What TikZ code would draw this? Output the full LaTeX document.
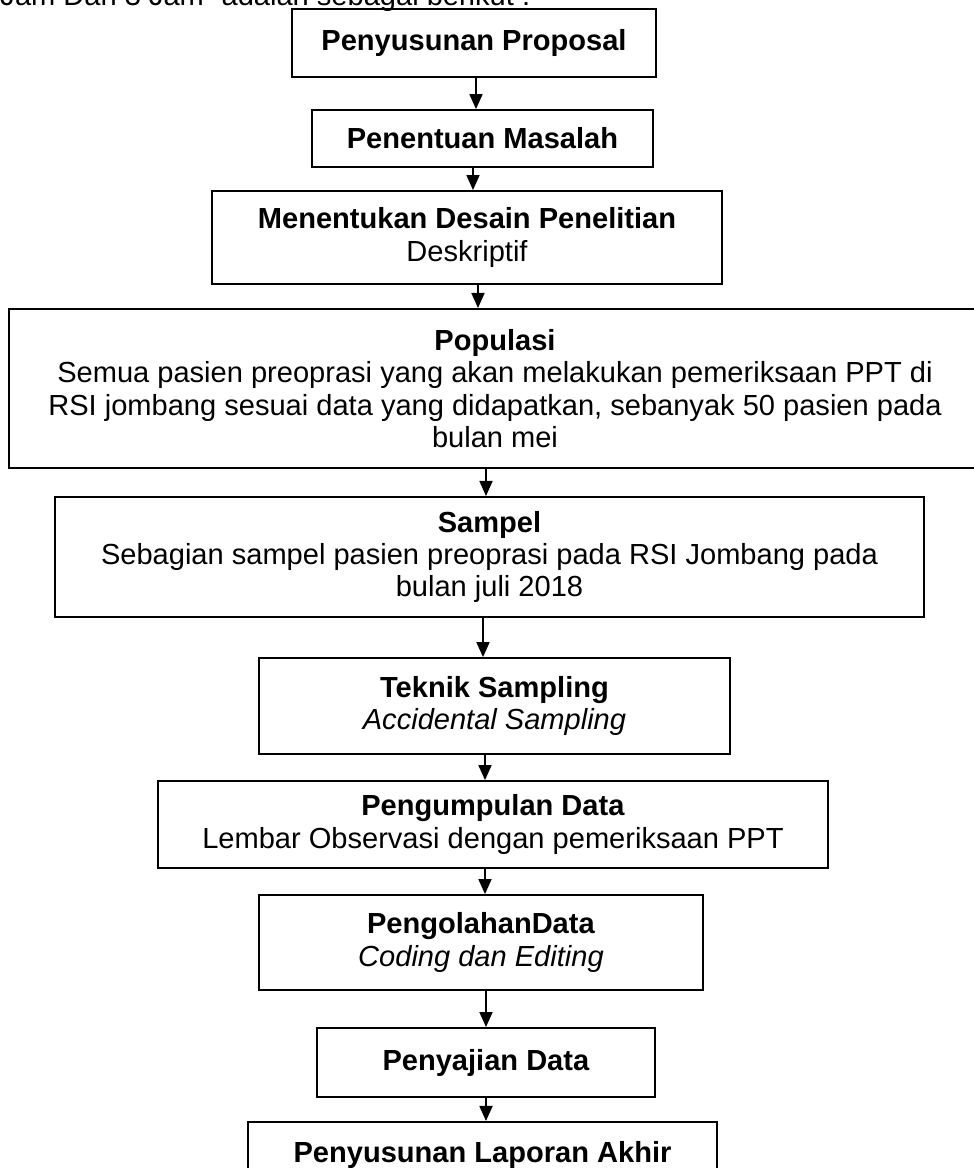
\documentclass[tikz,border=0pt]{standalone}
\usepackage{fontspec}
\setmainfont{Liberation Sans}
\usetikzlibrary{arrows.meta}

\begin{document}
\begin{tikzpicture}[x=0.413pt, y=-0.413pt,
  box/.style={draw, line width=0.8pt, align=center, inner sep=0pt, font=\fontsize{12}{13.4}\selectfont},
  arr/.style={line width=0.6pt, -{Triangle[length=6.2pt, width=5.4pt]}}]
\useasboundingbox (0,0) rectangle (974,1168);
\clip (0,0) rectangle (974,1168);
% line of text cut off above the chart
\node[anchor=base west, inner sep=0pt, font=\fontsize{12}{13.4}\selectfont] (intro) at (0,5.5) {Jam Dan 3 Jam'' adalah sebagai berikut :};
\node[box, minimum width=150.3pt, minimum height=28.1pt] (proposal) at (474,43) {\textbf{Penyusunan Proposal}};
\node[box, minimum width=140.8pt, minimum height=23.5pt] (masalah) at (482.5,138.5) {\textbf{Penentuan Masalah}};
\node[box, minimum width=210.6pt, minimum height=38.4pt] (desain) at (467,237.5) {\textbf{Menentukan Desain Penelitian}\\Deskriptif};
\node[box, minimum width=401.4pt, minimum height=65.7pt] (populasi) at (495,388.5) {\textbf{Populasi}\\Semua pasien preoprasi yang akan melakukan pemeriksaan PPT di\\RSI jombang sesuai data yang didapatkan, sebanyak 50 pasien pada\\bulan mei};
\node[box, minimum width=358.9pt, minimum height=49.6pt] (sampel) at (489.5,557) {\textbf{Sampel}\\Sebagian sampel pasien preoprasi pada RSI Jombang pada\\bulan juli 2018};
\node[box, minimum width=194.5pt, minimum height=39.6pt] (teknik) at (494.5,706) {\textbf{Teknik Sampling}\\\textit{Accidental Sampling}};
\node[box, minimum width=276.7pt, minimum height=35.9pt] (pengumpulan) at (493,824.5) {\textbf{Pengumpulan Data}\\Lembar Observasi dengan pemeriksaan PPT};
\node[box, minimum width=183.4pt, minimum height=39.2pt] (pengolahan) at (481,942.5) {\textbf{PengolahanData}\\\textit{Coding dan Editing}};
\node[box, minimum width=139.6pt, minimum height=28.5pt] (penyajian) at (486,1062.5) {\textbf{Penyajian Data}};
\node[box, minimum width=193.7pt, minimum height=27.3pt] (laporan) at (482.5,1155) {\textbf{Penyusunan Laporan Akhir}};

\draw[arr] (proposal.south -| 476,0) -- (masalah.north -| 476,0);
\draw[arr] (masalah.south -| 473,0) -- (desain.north -| 473,0);
\draw[arr] (desain.south -| 478,0) -- (populasi.north -| 478,0);
\draw[arr] (populasi.south -| 486,0) -- (sampel.north -| 486,0);
\draw[arr] (sampel.south -| 483,0) -- (teknik.north -| 483,0);
\draw[arr] (teknik.south -| 485,0) -- (pengumpulan.north -| 485,0);
\draw[arr] (pengumpulan.south -| 485,0) -- (pengolahan.north -| 485,0);
\draw[arr] (pengolahan.south -| 486,0) -- (penyajian.north -| 486,0);
\draw[arr] (penyajian.south -| 486,0) -- (laporan.north -| 486,0);

\end{tikzpicture}
\end{document}
